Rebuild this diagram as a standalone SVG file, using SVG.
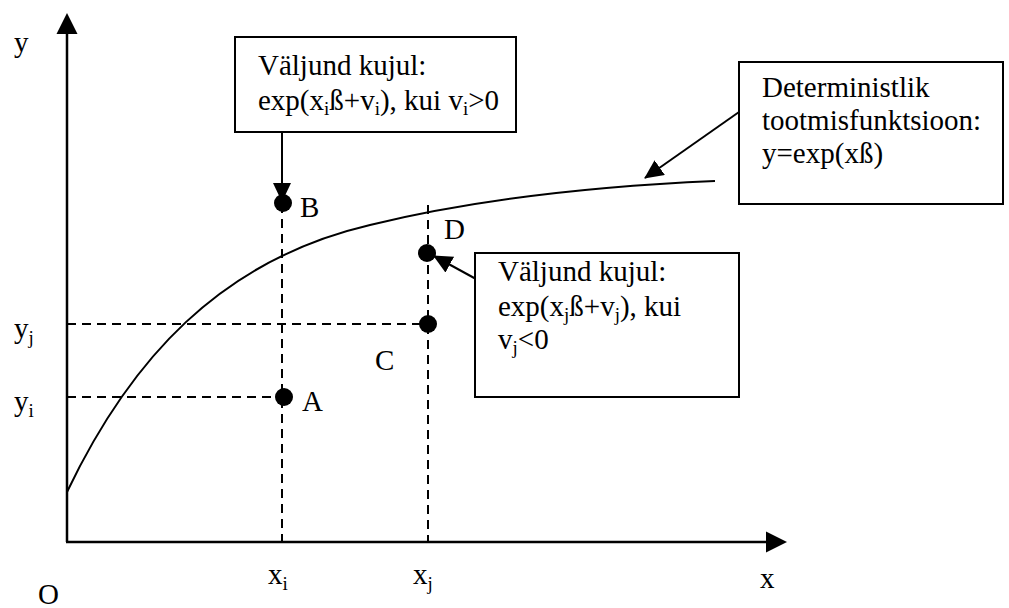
<svg xmlns="http://www.w3.org/2000/svg" width="1009" height="608" viewBox="0 0 1009 608">
<style>
text{font-family:"Liberation Serif","Times New Roman",serif;font-size:29px;fill:#000}
.sub{font-size:19px}
.box{fill:#fff;stroke:#000;stroke-width:2}
.ln{stroke:#000;stroke-width:2;fill:none}
.ax{stroke:#000;stroke-width:2.5;fill:none}
.dash{stroke:#000;stroke-width:2;stroke-dasharray:9 6;fill:none}
.dot{fill:#000}
</style>
<defs>
<marker id="ah" markerWidth="20" markerHeight="20" refX="18" refY="9" orient="auto" markerUnits="userSpaceOnUse">
<path d="M0,0 L19,9 L0,18 z" fill="#000"/>
</marker>
</defs>
<rect width="1009" height="608" fill="#fff"/>
<g id="axes">
<line class="ax" x1="67" y1="542" x2="67" y2="30"/>
<path d="M67,13 L56.5,34 L77.5,34 z" fill="#000"/>
<line class="ax" x1="66" y1="542" x2="770" y2="542"/>
<path d="M787,542 L766,531.5 L766,552.5 z" fill="#000"/>
<text x="14" y="52">y</text>
<text x="38" y="604">O</text>
<text x="760" y="588">x</text>
</g>
<g id="curve">
<path class="ln" d="M67,492 C130,360 220,260 370,225 C480,198 600,186 715,181"/>
</g>
<g id="guides">
<line class="dash" x1="282" y1="204" x2="282" y2="542"/>
<line class="dash" x1="428" y1="205" x2="428" y2="542"/>
<line class="dash" x1="67" y1="324" x2="428" y2="324"/>
<line class="dash" x1="67" y1="397" x2="284" y2="397"/>
<text x="14" y="338">y<tspan class="sub" dy="6">j</tspan></text>
<text x="14" y="411">y<tspan class="sub" dy="6">i</tspan></text>
<text x="268" y="584">x<tspan class="sub" dy="6">i</tspan></text>
<text x="413" y="584">x<tspan class="sub" dy="6">j</tspan></text>
</g>
<g id="pointA"><circle class="dot" cx="284" cy="397" r="9"/><text x="302" y="411">A</text></g>
<g id="pointB"><circle class="dot" cx="283" cy="203" r="9"/><text x="300" y="217">B</text></g>
<g id="pointC"><circle class="dot" cx="428" cy="324" r="9"/><text x="375" y="370">C</text></g>
<g id="pointD"><circle class="dot" cx="427" cy="253" r="9"/><text x="444" y="239">D</text></g>
<g id="connectors">
<line class="ln" x1="282" y1="132" x2="282" y2="201" marker-end="url(#ah)"/>
<line class="ln" x1="739" y1="112" x2="645" y2="178" marker-end="url(#ah)"/>
<line class="ln" x1="476" y1="279" x2="434" y2="256" marker-end="url(#ah)"/>
</g>
<g id="box1">
<rect class="box" x="235" y="37" width="281" height="95"/>
<text x="258" y="75">Väljund kujul:</text>
<text x="258" y="110">exp(x<tspan class="sub" dy="5">i</tspan><tspan dy="-5">ß+v</tspan><tspan class="sub" dy="5">i</tspan><tspan dy="-5">), kui v</tspan><tspan class="sub" dy="5">i</tspan><tspan dy="-5">&gt;0</tspan></text>
</g>
<g id="box2">
<rect class="box" x="739" y="62" width="264" height="142"/>
<text x="762" y="97">Deterministlik</text>
<text x="762" y="130">tootmisfunktsioon:</text>
<text x="762" y="163">y=exp(xß)</text>
</g>
<g id="box3">
<rect class="box" x="475" y="253" width="264" height="144"/>
<text x="498" y="281">Väljund kujul:</text>
<text x="498" y="316">exp(x<tspan class="sub" dy="5">j</tspan><tspan dy="-5">ß+v</tspan><tspan class="sub" dy="5">j</tspan><tspan dy="-5">), kui</tspan></text>
<text x="498" y="349">v<tspan class="sub" dy="5">j</tspan><tspan dy="-5">&lt;0</tspan></text>
</g>
</svg>
